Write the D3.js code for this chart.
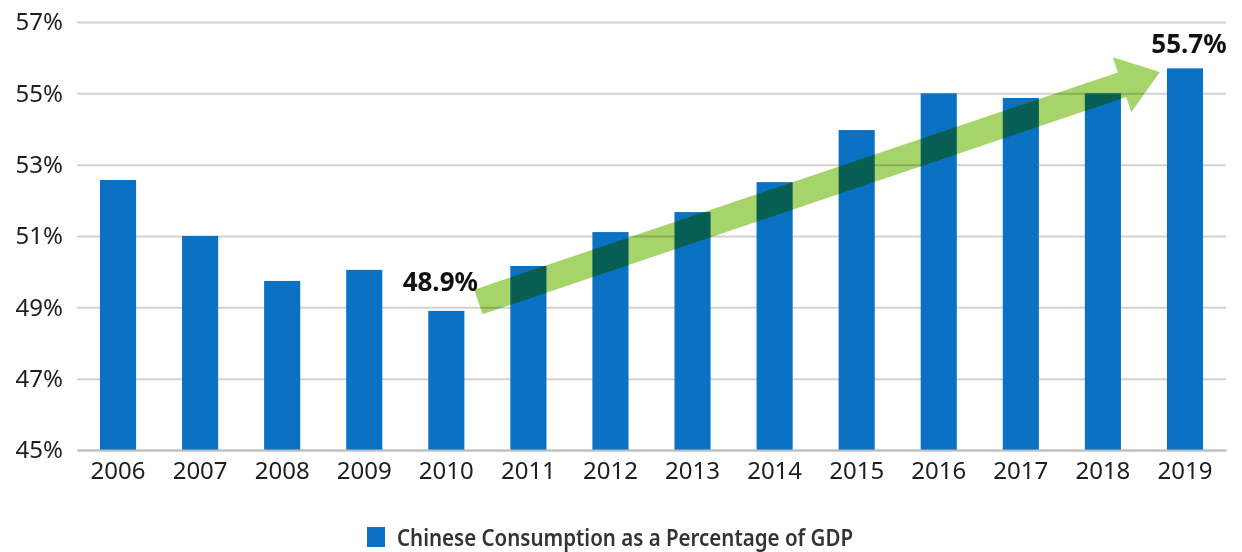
<!DOCTYPE html>
<html>
<head>
<meta charset="utf-8">
<title>Chinese Consumption as a Percentage of GDP</title>
<script src="https://d3js.org/d3.v7.min.js"></script>
<style>
  body { margin: 0; background: #fff; }
  svg { display: block; }
</style>
</head>
<body>
<div id="chart"></div>
<script>
// data
var years = ["2006", "2007", "2008", "2009", "2010", "2011", "2012", "2013", "2014", "2015", "2016", "2017", "2018", "2019"]
var values = [52.57, 51.0, 49.74, 50.05, 48.9, 50.16, 51.11, 51.67, 52.51, 53.97, 55.0, 54.87, 55.0, 55.7]
var yTicks = [45, 47, 49, 51, 53, 55, 57]
var seriesName = "Chinese Consumption as a Percentage of GDP"
var callouts = [{year: "2010", value: 48.9, text: "48.9%"}, {year: "2019", value: 55.7, text: "55.7%"}]
// trend arrow, in data units
var arrowFrom = {year: "2010", value: 49.15}
var arrowTo = {year: "2019", value: 55.6}

var width = 1242, height = 552
var margin = {top: 22, right: 16, bottom: 102, left: 77}

var svg = d3.select("#chart").append("svg")
  .attr("width", width)
  .attr("height", height)

var x = d3.scaleBand()
  .domain(years)
  .range([margin.left, width - margin.right])
  .paddingInner(0.56)
  .paddingOuter(0.28)

var y = d3.scaleLinear()
  .domain([45, 57])
  .range([height - margin.bottom, margin.top])

// gridlines + y labels
var yAxis = svg.append("g")
  .attr("transform", "translate(" + margin.left + ",0)")
  .call(d3.axisLeft(y).tickValues(yTicks).tickFormat(function(d) { return d + "%" })
    .tickSize(-(width - margin.left - margin.right)).tickPadding(14))
yAxis.select(".domain").remove()
yAxis.selectAll(".tick line").attr("stroke", "#d2d2d2").attr("stroke-width", 2)
yAxis.selectAll(".tick text")
  .attr("font-family", "Noto Sans, sans-serif")
  .attr("font-size", 24)
  .attr("fill", "#1e1e1e")

// bars
svg.append("g").selectAll("rect")
  .data(years)
  .join("rect")
  .attr("x", function(d) { return x(d) })
  .attr("width", x.bandwidth())
  .attr("y", function(d, i) { return y(values[i]) })
  .attr("height", function(d, i) { return y(45) - y(values[i]) })
  .attr("fill", "#0a71c3")

// x axis
var xAxis = svg.append("g")
  .attr("transform", "translate(0," + y(45) + ")")
  .call(d3.axisBottom(x).tickSize(0).tickPadding(12))
xAxis.select(".domain").attr("stroke", "#bdbdbd").attr("stroke-width", 2)
xAxis.selectAll(".tick text")
  .attr("font-family", "Noto Sans, sans-serif")
  .attr("font-size", 24)
  .attr("fill", "#1e1e1e")

// trend arrow (multiply so it darkens over the bars)
var x0 = x(arrowFrom.year) + x.bandwidth() + 14, y0 = y(arrowFrom.value)
var x1 = x(arrowTo.year) - 7, y1 = y(arrowTo.value)
var len = Math.hypot(x1 - x0, y1 - y0)
var ang = Math.atan2(y1 - y0, x1 - x0) * 180 / Math.PI
var shaft = 13, headLen = 40, headHalf = 29
var pts = [[0, -shaft], [len - headLen, -shaft], [len - headLen, -headHalf], [len, 0],
  [len - headLen, headHalf], [len - headLen, shaft], [0, shaft]]
svg.append("path")
  .attr("d", d3.line()(pts) + "Z")
  .attr("transform", "translate(" + x0 + "," + y0 + ") rotate(" + ang + ")")
  .attr("fill", "#a6d46b")
  .style("mix-blend-mode", "multiply")

// callout labels
svg.append("g").selectAll("text")
  .data(callouts)
  .join("text")
  .attr("x", function(d, i) { return x(d.year) + x.bandwidth() / 2 + (i == 0 ? -6 : 4) })
  .attr("y", function(d, i) { return y(d.value) - (i == 0 ? 20 : 15) })
  .attr("text-anchor", "middle")
  .attr("font-family", "Noto Sans, sans-serif")
  .attr("font-weight", "bold")
  .attr("font-size", 26)
  .attr("fill", "#111")
  .text(function(d) { return d.text })

// legend
var legend = svg.append("g").attr("transform", "translate(367,527)")
legend.append("rect").attr("width", 18).attr("height", 20).attr("fill", "#0a71c3")
legend.append("text")
  .attr("x", 30)
  .attr("y", 19)
  .attr("font-family", "Noto Sans, sans-serif")
  .attr("font-weight", 600)
  .attr("font-size", 24)
  .attr("fill", "#333")
  .attr("textLength", 456)
  .attr("lengthAdjust", "spacingAndGlyphs")
  .text(seriesName)
</script>
</body>
</html>
